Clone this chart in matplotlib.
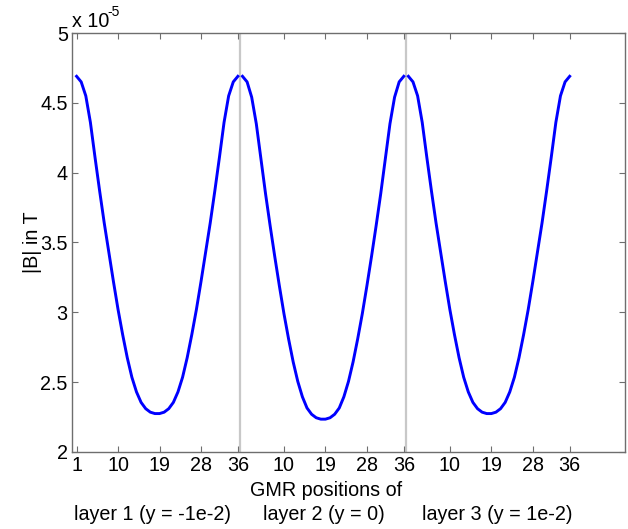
import matplotlib
matplotlib.use("Agg")
import matplotlib.pyplot as plt
import numpy as np

plt.rcParams['font.family'] = ['Liberation Sans', 'DejaVu Sans']

# |B| values (x 1e-5 T) for the 36 GMR positions of each layer
layer1 = [4.69, 4.65, 4.55, 4.36, 4.11, 3.87, 3.64, 3.43, 3.22, 3.02, 2.84, 2.675,
          2.535, 2.43, 2.355, 2.31, 2.285, 2.275, 2.275, 2.285, 2.31, 2.355, 2.43, 2.535,
          2.675, 2.84, 3.02, 3.22, 3.43, 3.64, 3.87, 4.11, 4.36, 4.55, 4.65, 4.69]
layer2 = [4.69, 4.65, 4.54, 4.35, 4.10, 3.85, 3.62, 3.40, 3.19, 2.99, 2.81, 2.645,
          2.505, 2.395, 2.315, 2.27, 2.245, 2.235, 2.235, 2.245, 2.27, 2.315, 2.395, 2.505,
          2.645, 2.81, 2.99, 3.19, 3.40, 3.62, 3.85, 4.10, 4.35, 4.54, 4.65, 4.69]
layer3 = [4.69, 4.65, 4.55, 4.36, 4.11, 3.87, 3.64, 3.43, 3.22, 3.02, 2.84, 2.675,
          2.535, 2.43, 2.355, 2.31, 2.285, 2.275, 2.275, 2.285, 2.31, 2.355, 2.43, 2.535,
          2.675, 2.84, 3.02, 3.22, 3.43, 3.64, 3.87, 4.11, 4.36, 4.55, 4.65, 4.69]
layers = [layer1, layer2, layer3]

tick_positions = [1, 10, 19, 28, 36, 46, 55, 64, 72, 82, 91, 100, 108]
tick_labels = ['1', '10', '19', '28', '36', '10', '19', '28', '36', '10', '19', '28', '36']
layer_names = ['layer 1 (y = -1e-2)', 'layer 2 (y = 0)', 'layer 3 (y = 1e-2)']
separators = [36.5, 72.5]
ytick_vals = [2, 2.5, 3, 3.5, 4, 4.5, 5]
ytick_labels = ['2', '2.5', '3', '3.5', '4', '4.5', '5']

FS = 14.2

fig = plt.figure(figsize=(6.28, 5.29), dpi=100)
ax = fig.add_axes([0.1146, 0.1456, 0.8806, 0.792])

for s in separators:
    ax.axvline(s, color='#c8c8c8', lw=1.6, zorder=1)

n = len(layer1)
for k, vals in enumerate(layers):
    x = np.arange(1, n + 1) + k * n
    ax.plot(x, np.array(vals) * 1e-5, color='#0000ff', lw=2.1, zorder=2)

ax.set_xlim(0, 120)
ax.set_ylim(2e-5, 5e-5)
ax.set_xticks(tick_positions)
ax.set_xticklabels(tick_labels)
ax.set_yticks([v * 1e-5 for v in ytick_vals])
ax.set_yticklabels(ytick_labels)

for sp in ax.spines.values():
    sp.set_color('#6e6e6e')
    sp.set_linewidth(1.0)
ax.tick_params(direction='in', length=4, width=0.8, color='#6e6e6e',
               top=True, right=True, labelsize=FS, pad=3)

ax.set_ylabel('|B| in T', fontsize=FS)
ax.yaxis.set_label_coords(-0.054, 0.5)

# exponent label
fig.text(72 / 628, 1 - 27 / 529, 'x 10', fontsize=FS, ha='left', va='baseline')
fig.text(107 / 628, 1 - 16 / 529, '-5', fontsize=10, ha='left', va='baseline')

fig.text(326 / 628, 1 - 490 / 529, 'GMR positions of', fontsize=FS, ha='center', va='center')
for name, cx in zip(layer_names, [153, 324, 497]):
    fig.text(cx / 628, 1 - 514 / 529, name, fontsize=FS, ha='center', va='center')

fig.savefig('out.png', dpi=100)
